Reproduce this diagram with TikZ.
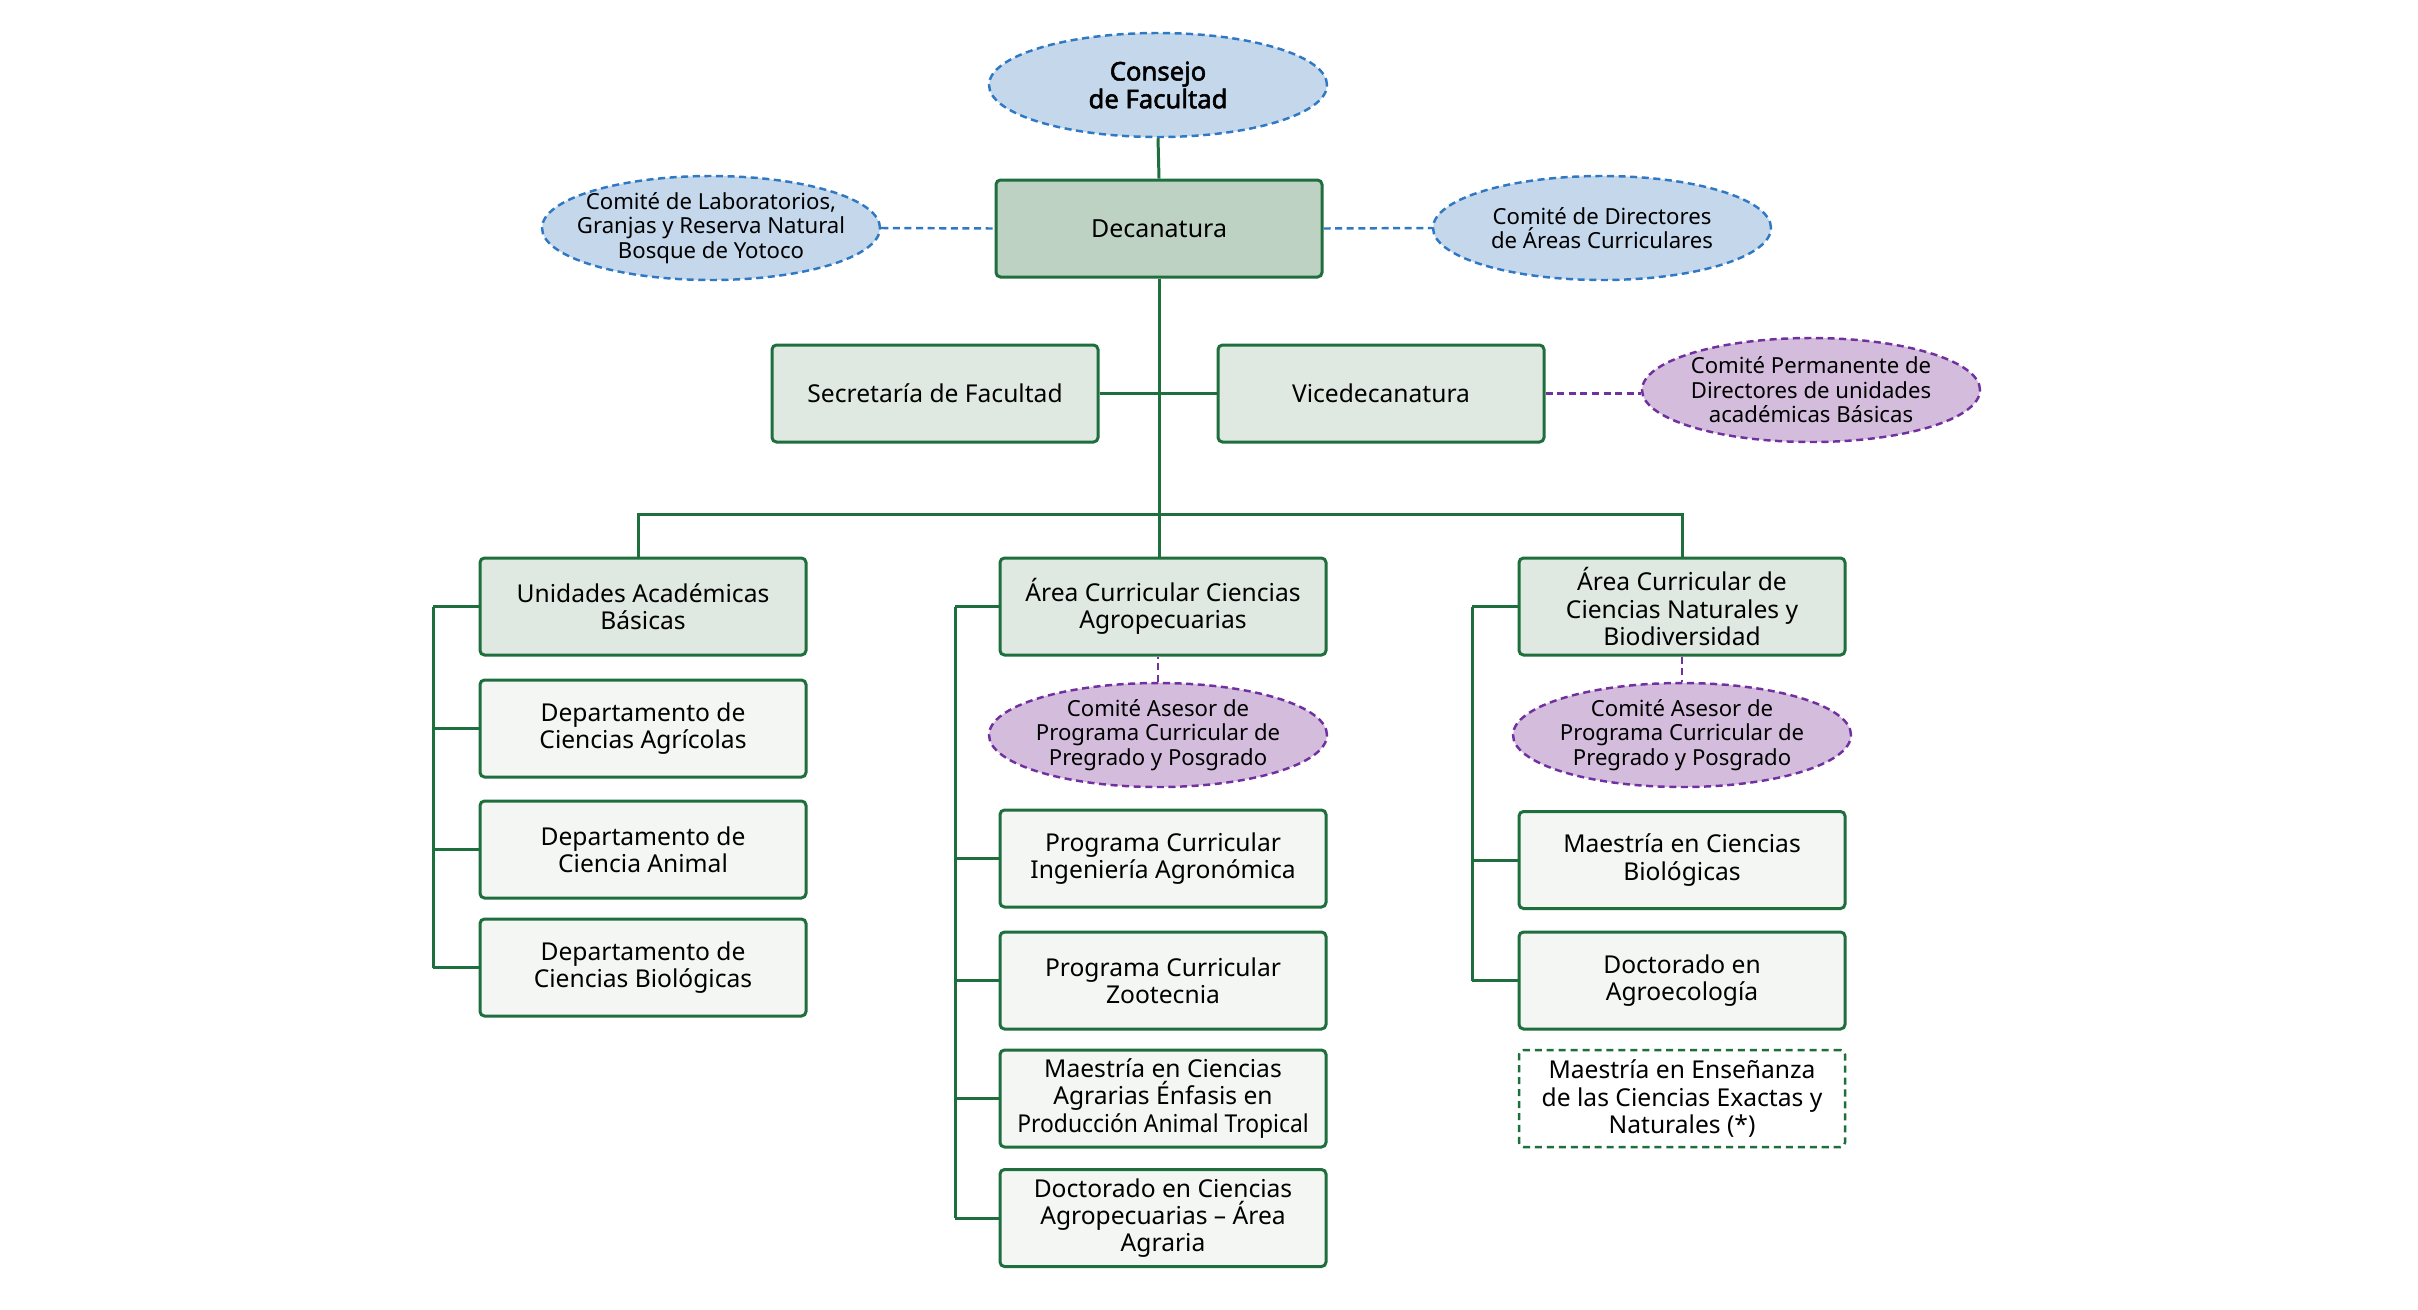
\documentclass[tikz,border=0pt]{standalone}
\usepackage{graphicx}
\usepackage{fontspec}
\setmainfont{Noto Sans}
\newfontfamily\consfont{Noto Sans}[FakeBold=2.2]
\usetikzlibrary{shapes.geometric}
\definecolor{lnGreen}{HTML}{1E6E3E}
\definecolor{fillDark}{HTML}{BED2C3}
\definecolor{fillMid}{HTML}{DFE8E1}
\definecolor{fillLight}{HTML}{F4F6F3}
\definecolor{bluLine}{HTML}{2F78C4}
\definecolor{bluFill}{HTML}{C5D7EB}
\definecolor{purLine}{HTML}{7030A0}
\definecolor{purFill}{HTML}{D4BDDC}
\tikzset{
  box/.style={draw=lnGreen, line width=0.85pt, rounded corners=0.45mm,
    minimum width=32.6mm, minimum height=9.7mm, align=center, inner sep=0.5mm,
    font=\fontsize{7.0}{7.8}\selectfont},
  topbox/.style={box, fill=fillDark},
  midbox/.style={box, fill=fillMid},
  lowbox/.style={box, fill=fillLight},
  dashbox/.style={box, fill=white, line width=0.7pt, dash pattern=on 2pt off 1.4pt},
  ell/.style={ellipse, line width=0.7pt, dash pattern=on 2pt off 1.3pt,
    minimum width=33.8mm, minimum height=10.4mm, inner xsep=-3mm, inner ysep=-1.2mm,
    align=center, font=\fontsize{6.3}{7.0}\selectfont},
  bluell/.style={ell, draw=bluLine, fill=bluFill},
  purell/.style={ell, draw=purLine, fill=purFill},
  link/.style={draw=lnGreen, line width=0.85pt},
  bludash/.style={draw=bluLine, line width=0.7pt, dash pattern=on 2pt off 1.3pt},
  purdash/.style={draw=purLine, line width=0.7pt, dash pattern=on 2pt off 1.3pt}
}
\begin{document}
\begin{tikzpicture}[x=0.1mm, y=-0.1mm]
\useasboundingbox[fill=white] (0,0) rectangle (2418,1309);

% top level
\node[bluell, font=\consfont\fontsize{7.3}{7.9}\selectfont] (cons) at (1158,85) {Consejo\\de Facultad};
\node[topbox, font=\fontsize{7.1}{7.8}\selectfont] (dec) at (1159,228.5) {Decanatura};
\node[bluell] (lab) at (711,228) {Comité de Laboratorios,\\Granjas y Reserva Natural\\Bosque de Yotoco};
\node[bluell] (dir) at (1602,228) {Comité de Directores\\de Áreas Curriculares};
\node[midbox] (sec) at (935,393.5) {Secretaría de Facultad};
\node[midbox] (vice) at (1381,393.5) {Vicedecanatura};
\node[purell] (perm) at (1811,390) {Comité Permanente de\\Directores de unidades\\académicas Básicas};

% column 1
\node[midbox] (u1) at (643,606.5) {Unidades Académicas\\Básicas};
\node[lowbox] (d1) at (643,728.5) {Departamento de\\Ciencias Agrícolas};
\node[lowbox] (d2) at (643,849.5) {Departamento de\\Ciencia Animal};
\node[lowbox] (d3) at (643,967.5) {Departamento de\\Ciencias Biológicas};

% column 2
\node[midbox] (ac2) at (1163,606.5) {Área Curricular Ciencias\\Agropecuarias};
\node[purell] (ase2) at (1158,735) {Comité Asesor de\\Programa Curricular de\\Pregrado y Posgrado};
\node[lowbox] (p1) at (1163,858.5) {Programa Curricular\\Ingeniería Agronómica};
\node[lowbox] (p2) at (1163,980.5) {Programa Curricular\\Zootecnia};
\node[lowbox] (p3) at (1163,1098.5) {Maestría en Ciencias\\Agrarias Énfasis en\\\scalebox{0.93}[1]{Producción Animal Tropical}};
\node[lowbox] (p4) at (1163,1218) {Doctorado en Ciencias\\Agropecuarias – Área\\Agraria};

% column 3
\node[midbox] (ac3) at (1682,606.5) {Área Curricular de\\Ciencias Naturales y\\Biodiversidad};
\node[purell] (ase3) at (1682,735) {Comité Asesor de\\Programa Curricular de\\Pregrado y Posgrado};
\node[lowbox] (q1) at (1682,860) {Maestría en Ciencias\\Biológicas};
\node[lowbox] (q2) at (1682,980.5) {Doctorado en\\Agroecología};
\node[dashbox, draw=lnGreen] (q3) at (1682,1098.5) {Maestría en Enseñanza\\de las Ciencias Exactas y\\Naturales (*)};

% helper coordinates
\coordinate (bar) at (1159,514);
\coordinate (c1) at (638,0);
\coordinate (b1) at (433,0);
\coordinate (b2) at (955,0);
\coordinate (b3) at (1472,0);

% solid connectors
\draw[link] (cons.south) -- (dec.north);
\draw[link] (dec.south) -- (dec.south |- ac2.north);
\draw[link] (sec.east) -- (vice.west);
\draw[link] (u1.north -| c1) -- (c1 |- bar) -- (ac3.north |- bar) -- (ac3.north);

\draw[link] (u1.west -| b1) -- (d3.west -| b1);
\foreach \n in {u1,d1,d2,d3} \draw[link] (\n.west) -- (\n.west -| b1);
\draw[link] (ac2.west -| b2) -- (p4.west -| b2);
\foreach \n in {ac2,p1,p2,p3,p4} \draw[link] (\n.west) -- (\n.west -| b2);
\draw[link] (ac3.west -| b3) -- (q2.west -| b3);
\foreach \n in {ac3,q1,q2} \draw[link] (\n.west) -- (\n.west -| b3);

% dashed connectors
\draw[bludash] (lab.east) -- (dec.west);
\draw[bludash] (dec.east) -- (dir.west);
\draw[purdash] (vice.east) -- (perm.west |- vice.east);
\draw[purdash] (ase2.north) -- (ase2.north |- ac2.south);
\draw[purdash] (ac3.south) -- (ase3.north);
\end{tikzpicture}
\end{document}
